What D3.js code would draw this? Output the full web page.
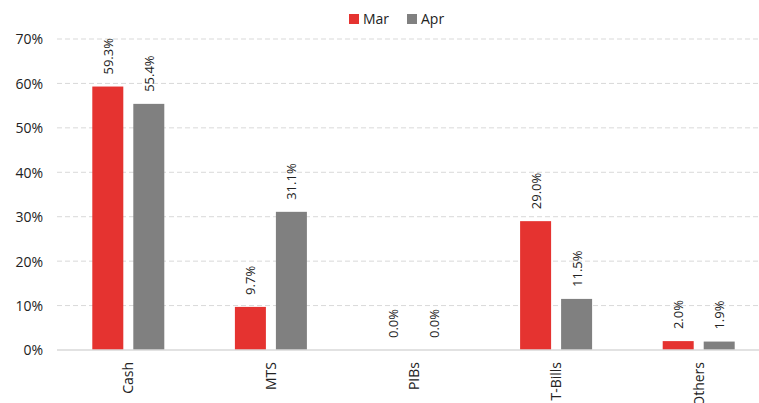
<!DOCTYPE html>
<html>
<head>
<meta charset="utf-8">
<script src="https://cdn.jsdelivr.net/npm/d3@7"></script>
<style>
body{margin:0;background:#fff}
text{font-family:"Open Sans",sans-serif;fill:#222}
</style>
</head>
<body>
<div id="chart"></div>
<script>
'use strict'
const categories=["Cash","MTS","PIBs","T-Bills","Others"]
const seriesNames=["Mar","Apr"]
const marValues=[59.3,9.7,0.0,29.0,2.0]
const aprValues=[55.4,31.1,0.0,11.5,1.9]
const yTicks=[0,10,20,30,40,50,60,70]
const colors=["#E53330","#808080"]

let width=759,height=403
let margin={top:39,right:-11,bottom:53,left:57}
let innerW=width-margin.left-margin.right
let innerH=height-margin.top-margin.bottom

let svg=d3.select("#chart").append("svg").attr("width",width).attr("height",height)
let g=svg.append("g").attr("transform","translate("+margin.left+","+margin.top+")")

let x=d3.scaleBand().domain(categories).range([0,innerW])
let y=d3.scaleLinear().domain([0,70]).range([innerH,0])
let series=[marValues,aprValues]
let barW=31,gap=10

// gridlines
g.selectAll(".grid").data(yTicks.filter(d=>d>0)).enter().append("line")
  .attr("x1",0).attr("x2",innerW).attr("y1",d=>y(d)).attr("y2",d=>y(d))
  .style("stroke","#d9d9d9").style("stroke-dasharray","5,3")

// y axis
let yAxis=d3.axisLeft(y).tickValues(yTicks).tickFormat(d=>d+"%").tickSize(0).tickPadding(14)
let ya=g.append("g").call(yAxis)
ya.select(".domain").remove()
ya.selectAll("text").style("font-size","14px").attr("dy","0.35em")

// bars
series.forEach(function(vals,si){
  let off=si==0?-(barW+gap/2):gap/2
  g.selectAll(".bar"+si).data(vals).enter().append("rect")
    .attr("x",(d,i)=>x(categories[i])+x.bandwidth()/2+off)
    .attr("y",d=>y(d)).attr("width",barW).attr("height",d=>y(0)-y(d))
    .style("fill",colors[si])
  g.selectAll(".lab"+si).data(vals).enter().append("text")
    .attr("transform",(d,i)=>"translate("+(x(categories[i])+x.bandwidth()/2+off+barW/2+5)+","+(y(d)-12)+")rotate(-90)")
    .style("font-size","13px").text(d=>d.toFixed(1)+"%")
})

// baseline
g.append("line").attr("x1",0).attr("x2",innerW).attr("y1",y(0)).attr("y2",y(0))
  .style("stroke","#d9d9d9").style("stroke-width",1.5)

// category labels
g.selectAll(".cat").data(categories).enter().append("text")
  .attr("transform",d=>"translate("+(x(d)+x.bandwidth()/2+5)+","+(innerH+12)+")rotate(-90)")
  .attr("text-anchor","end").style("font-size","14px").text(d=>d)

// legend
let legend=svg.selectAll(".legend").data(seriesNames).enter().append("g")
  .attr("transform",(d,i)=>"translate("+(349+i*58)+",14)")
legend.append("rect").attr("width",10).attr("height",10).style("fill",(d,i)=>colors[i])
legend.append("text").attr("x",14).attr("y",10).style("font-size","14px").text(d=>d)
</script>
</body>
</html>
